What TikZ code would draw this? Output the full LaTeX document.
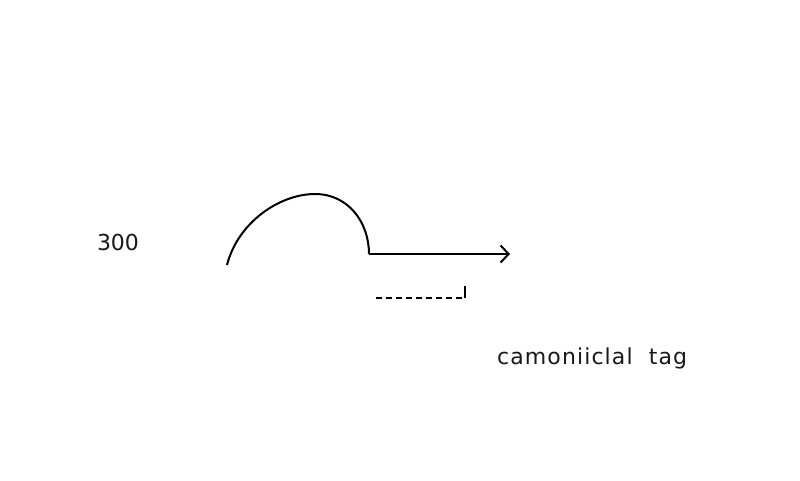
\documentclass[tikz,border=0pt]{standalone}
\usepackage{fontspec}
\setmainfont{DejaVu Sans}
\usetikzlibrary{arrows.meta}
\begin{document}
\begin{tikzpicture}[x=1pt,y=-1pt,
  line/.style={line width=2pt,black},
  lbl/.style={font=\fontsize{22}{26}\selectfont,text=black!90,inner sep=0pt}]
\useasboundingbox (0,0) rectangle (800,480);
\fill[white] (0,0) rectangle (800,480);
\node[lbl] (n300) at (118,242) {300};
\coordinate (cs) at (227,265);
\coordinate (ctop) at (315,194);
\coordinate (cj) at (369,254);
\coordinate (ae) at (510,254);
\draw[line] (cs) .. controls (238,222) and (280,194) .. (ctop) .. controls (348,194) and (369,222) .. (cj);
\draw[line,-{Straight Barb[length=8pt,width=17pt,line width=2pt]}] (cj) -- (ae);
\coordinate (d1) at (376,298);
\coordinate (d2) at (465,298);
\coordinate (d3) at (465,286);
\draw[line width=1.6pt,dash pattern=on 6pt off 4pt] (d1) -- (d2);
\draw[line width=1.6pt] (d2) -- (d3);
\node[lbl,anchor=west] (tag) at (497,358) {\addfontfeature{LetterSpace=5}camoniiclal\ \ tag};
\end{tikzpicture}
\end{document}
